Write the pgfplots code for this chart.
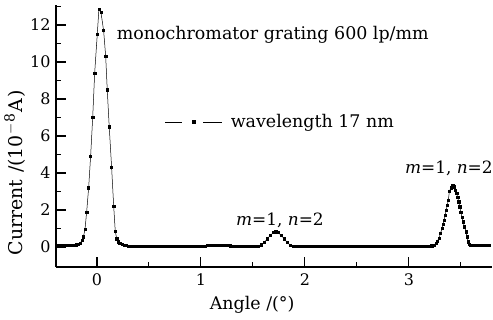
\documentclass[border=0pt]{standalone}
\usepackage{fontspec}
\setmainfont{DejaVu Serif}
\usepackage{pgfplots}
\pgfplotsset{compat=1.18}
\begin{document}
\fontsize{16}{19}\selectfont
\begin{tikzpicture}
\begin{axis}[
  at={(0,0)}, anchor=south west,
  scale only axis, width=436bp, height=262bp,
  xmin=-0.394, xmax=3.80, ymin=-1.08, ymax=13.08,
  axis x line*=bottom, axis y line*=left,
  axis line style={line width=1.3bp},
  every tick/.style={black, line width=1.1bp},
  tick align=inside,
  major tick length=10bp, minor tick length=5bp,
  xtick={0,1,2,3}, minor xtick={0.5,1.5,2.5,3.5},
  ytick={0,2,4,6,8,10,12}, minor ytick={1,3,5,7,9,11,13},
  /pgf/number format/assume math mode=true,
  tick label style={font=\fontsize{16}{19}\selectfont},
  xticklabel style={yshift=-1bp},
  xlabel={Angle /(°)},
  ylabel={Current\hspace{0.35em}/(10\hspace{1bp}\raisebox{0.42em}{\fontsize{14}{16}\selectfont $-$8}\hspace{2bp}A\hspace{1bp})},
  every axis x label/.style={at={(axis description cs:0.45,-0.145)}, anchor=center, font=\fontsize{17.5}{20}\selectfont},
  every axis y label/.style={at={(axis description cs:-0.094,0.36)}, rotate=90, anchor=center, font=\fontsize{19}{22}\selectfont},
  legend style={at={(axis description cs:0.25,0.553)}, anchor=west, draw=none, fill=none, inner sep=0pt, font=\fontsize{17.5}{20}\selectfont},
  legend cell align=left,
  legend image code/.code={
    \draw[black, line width=0.6bp] (0bp,0bp) -- (17bp,0bp);
    \draw[black, line width=0.6bp] (38bp,0bp) -- (57bp,0bp);
    \fill[black] (26.5bp,-1.4bp) rectangle (29.3bp,1.4bp);
  },
]
\addplot[black, line width=0.5bp, mark=square*, mark size=1.1bp, mark options={solid}] coordinates {
(-0.38,0.08) (-0.36,0.08) (-0.34,0.08) (-0.32,0.08) (-0.30,0.08) (-0.28,0.08)
(-0.26,0.09) (-0.24,0.09) (-0.22,0.10) (-0.20,0.12) (-0.18,0.15) (-0.16,0.22)
(-0.145,0.35) (-0.13,0.55) (-0.115,0.97) (-0.099,1.9) (-0.080,3.2) (-0.061,4.9)
(-0.041,7.0) (-0.022,9.4) (0.003,11.5) (0.019,12.86) (0.038,12.7) (0.064,11.7)
(0.084,10.3) (0.099,8.5) (0.118,6.5) (0.141,4.3) (0.161,2.2) (0.176,0.86)
(0.19,0.45) (0.205,0.28) (0.22,0.20) (0.24,0.15) (0.26,0.11) (0.28,0.08)
(0.30,0.06) (0.32,0.04)
(0.34,0.03) (0.36,0.03) (0.38,0.03) (0.40,0.03) (0.42,0.03) (0.44,0.03)
(0.46,0.03) (0.48,0.03) (0.50,0.03) (0.52,0.03) (0.54,0.03) (0.56,0.03)
(0.58,0.03) (0.60,0.03) (0.62,0.03) (0.64,0.03) (0.66,0.03) (0.68,0.03)
(0.70,0.03) (0.72,0.03) (0.74,0.03) (0.76,0.03) (0.78,0.03) (0.80,0.03)
(0.82,0.03) (0.84,0.03) (0.86,0.03) (0.88,0.03) (0.90,0.03) (0.92,0.03)
(0.94,0.03) (0.96,0.03) (0.98,0.03) (1.00,0.03) (1.02,0.03) (1.04,0.05)
(1.06,0.09) (1.08,0.10) (1.10,0.10) (1.12,0.10) (1.14,0.11) (1.16,0.11)
(1.18,0.11) (1.20,0.10) (1.22,0.10) (1.24,0.10) (1.26,0.09) (1.28,0.07)
(1.30,0.04) (1.32,0.03) (1.34,0.03) (1.36,0.03) (1.38,0.03) (1.40,0.03)
(1.42,0.03) (1.44,0.03) (1.46,0.03) (1.48,0.03) (1.50,0.03) (1.52,0.04)
(1.55,0.06) (1.58,0.12) (1.61,0.25) (1.64,0.45) (1.67,0.65) (1.70,0.78)
(1.72,0.82) (1.74,0.78) (1.77,0.65) (1.80,0.45) (1.83,0.25) (1.86,0.10)
(1.89,0.04)
(1.92,0.04) (1.94,0.04) (1.96,0.04) (1.98,0.04) (2.00,0.04) (2.02,0.04)
(2.04,0.04) (2.06,0.04) (2.08,0.04) (2.10,0.04) (2.12,0.04) (2.14,0.04)
(2.16,0.04) (2.18,0.04) (2.20,0.04) (2.22,0.04) (2.24,0.04) (2.26,0.04)
(2.28,0.04) (2.30,0.04) (2.32,0.04) (2.34,0.04) (2.36,0.04)
(2.38,0.02) (2.40,0.02) (2.42,0.02) (2.44,0.02) (2.46,0.02) (2.48,0.02)
(2.50,0.02) (2.52,0.02) (2.54,0.02) (2.56,0.02) (2.58,0.02) (2.60,0.02)
(2.62,0.02) (2.64,0.02) (2.66,0.02) (2.68,0.02) (2.70,0.02) (2.72,0.02)
(2.74,0.02) (2.76,0.02) (2.78,0.02) (2.80,0.02) (2.82,0.02) (2.84,0.02)
(2.86,0.02) (2.88,0.02) (2.90,0.02) (2.92,0.02) (2.94,0.02) (2.96,0.02)
(2.98,0.02) (3.00,0.02) (3.02,0.02) (3.04,0.02) (3.06,0.02) (3.08,0.02)
(3.10,0.03) (3.12,0.04) (3.14,0.05) (3.16,0.05) (3.18,0.05) (3.20,0.05)
(3.22,0.07) (3.24,0.10) (3.26,0.20) (3.275,0.33) (3.29,0.49) (3.305,0.75)
(3.32,1.0) (3.33,1.23) (3.34,1.46) (3.35,1.73) (3.36,2.0) (3.37,2.27)
(3.38,2.54) (3.39,3.0) (3.405,3.2) (3.42,3.35) (3.43,3.32) (3.44,3.26)
(3.45,3.08) (3.46,2.9) (3.47,2.68) (3.48,2.45) (3.49,2.18) (3.50,1.9)
(3.51,1.63) (3.52,1.37) (3.535,1.1) (3.55,0.83) (3.56,0.56) (3.57,0.29)
(3.58,0.16) (3.59,0.10) (3.61,0.08) (3.63,0.08) (3.65,0.08) (3.67,0.08)
(3.69,0.08) (3.71,0.08) (3.73,0.08) (3.75,0.08) (3.77,0.08)
};
\addlegendentry{\hspace{6bp}wavelength 17 nm}
\node[anchor=west, inner sep=0pt, font=\fontsize{17.5}{20}\selectfont] at (axis cs:0.19,11.46) {monochromator grating 600 lp/mm};
\node[inner sep=0pt, font=\fontsize{17}{20}\selectfont] at (axis cs:1.76,1.46) {\textit{m}=1, \textit{n}=2};
\node[inner sep=0pt, font=\fontsize{17}{20}\selectfont] at (axis cs:3.385,4.27) {\textit{m}=1, \textit{n}=2};
\end{axis}
\pgfresetboundingbox
\path[use as bounding box] (-56bp,-53bp) rectangle (437bp,267bp);
\end{tikzpicture}
\end{document}
